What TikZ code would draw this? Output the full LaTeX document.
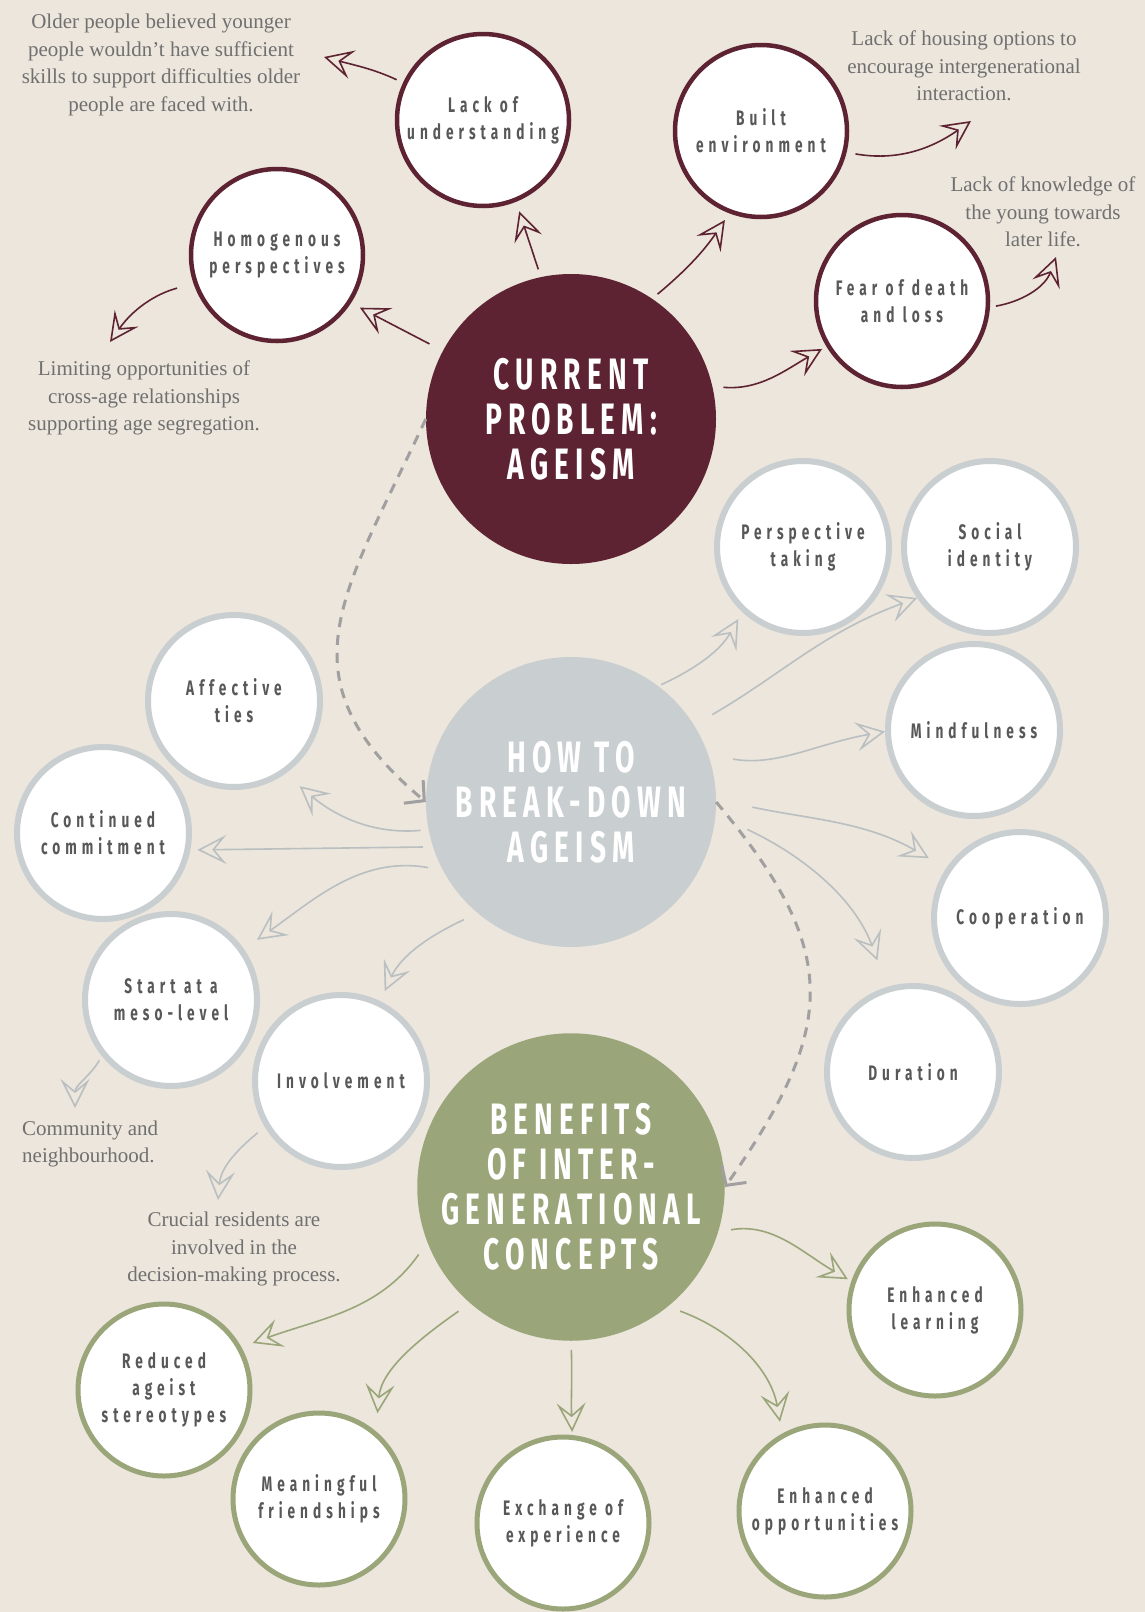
\documentclass[tikz,border=0pt]{standalone}
\usepackage{fontspec}
\setmainfont{Liberation Serif}
\newfontfamily\circfont[FakeStretch=0.65,LetterSpace=24]{Fira Sans}
\newfontfamily\headfont[FakeStretch=0.64,LetterSpace=14]{Fira Sans}
\usetikzlibrary{arrows.meta}
\definecolor{paper}{RGB}{236,230,220}
\definecolor{wine}{RGB}{94,35,51}
\definecolor{mist}{RGB}{201,206,208}
\definecolor{fog}{RGB}{186,191,193}
\definecolor{sage}{RGB}{154,166,122}
\definecolor{ink}{RGB}{88,88,88}
\definecolor{pencil}{RGB}{112,112,112}
\definecolor{dashgrey}{RGB}{160,160,160}

\begin{document}
\begin{tikzpicture}[x=1pt,y=1pt,
  big/.style={circle,minimum size=290pt,inner sep=0pt,text=white,align=center,
    font=\headfont\bfseries\fontsize{44}{45}\selectfont},
  ring/.style={circle,fill=white,minimum size=172pt,inner sep=0pt,align=center,text=ink,
    font=\circfont\bfseries\fontsize{21}{27}\selectfont},
  ringw/.style={ring,draw=wine,line width=4.5pt},
  ringm/.style={ring,draw=mist,line width=6pt},
  ringg/.style={ring,draw=sage,line width=5pt},
  note/.style={align=center,text=pencil,inner sep=0pt,font=\fontsize{21}{27.5}\selectfont},
  hand/.style={line width=1.6pt,-{Stealth[open,length=29pt,width=29pt,inset=12pt]}},
  arm/.style={hand,draw=wine},
  arg/.style={hand,draw=fog},
  arv/.style={hand,draw=sage},
  dashline/.style={draw=dashgrey,line width=3pt,dash pattern=on 10pt off 8pt,
    -{Straight Barb[length=14pt,width=30pt]}}]
\fill[paper] (0,0) rectangle (1145,-1612);
\useasboundingbox (0,0) rectangle (1145,-1612);

% the three big circles
\node[big,fill=wine] (cp) at (571,-419) {CURRENT\\PROBLEM:\\AGEISM};
\node[big,fill=mist] (hw) at (571,-802) {HOW TO\\BREAK-DOWN\\AGEISM};
\node[big,fill=sage] (bf) at (571,-1187) {BENEFITS\\OF INTER-\\GENERATIONAL\\CONCEPTS};
\draw[dashline] (cp.180) to[out=245,in=140,looseness=1.3] (hw.180);
\draw[dashline] (hw.0) to[out=-50,in=55,looseness=1.3] (bf.0);

% current problem
\node[ringw] (lack) at (483,-120) {Lack of\\understanding};
\node[ringw] (built) at (761,-131) {Built\\environment};
\node[ringw] (homo) at (277,-255) {Homogenous\\perspectives};
\node[ringw] (fear) at (902,-301) {Fear of death\\and loss};
\node[note] (noteOld) at (161,-65) {Older people believed younger\\people wouldn't have sufficient\\skills to support difficulties older\\people are faced with.};
\node[note] (noteHouse) at (964,-66) {Lack of housing options to\\encourage intergenerational\\interaction.};
\node[note] (noteKnow) at (1043,-212) {Lack of knowledge of\\the young towards\\later life.};
\node[note] (noteLimit) at (144,-398) {Limiting opportunities of\\cross-age relationships\\supporting age segregation.};
\coordinate (oldEnd) at (324,-57);
\coordinate (limitEnd) at (110,-342);
\coordinate (houseEnd) at (971,-121);
\coordinate (knowEnd) at (1056,-257);
\draw[arm,shorten <=8pt,shorten >=10pt] (cp.102) -- (lack.-68);
\draw[arm,shorten <=7pt,shorten >=8pt] (cp.56) to[bend right=8] (built.-111);
\draw[arm,shorten <=15pt,shorten >=10pt] (cp.152) -- (homo.-33);
\draw[arm,shorten <=11pt,shorten >=5pt] (cp.13) to[out=-5,in=210] (fear.-149);
\draw[arm,shorten <=7pt] (lack.155) to[out=155,in=-15] (oldEnd);
\draw[arm,shorten <=17pt] (homo.-161) to[out=195,in=55] (limitEnd);
\draw[arm,shorten <=9pt] (built.-14) to[out=-10,in=215] (houseEnd);
\draw[arm,shorten <=6pt] (fear.-4) to[out=10,in=250] (knowEnd);

% how to break it down
\node[ringm] (persp) at (803,-547) {Perspective\\taking};
\node[ringm] (social) at (990,-547) {Social\\identity};
\node[ringm] (mind) at (974,-730) {Mindfulness};
\node[ringm] (affect) at (234,-701) {Affective\\ties};
\node[ringm] (contin) at (103,-833) {Continued\\commitment};
\node[ringm] (coop) at (1020,-918) {Cooperation};
\node[ringm] (meso) at (171,-1000) {Start at a\\meso-level};
\node[ringm] (invol) at (341,-1081) {Involvement};
\node[ringm] (durat) at (913,-1072) {Duration};
\node[note,align=left,anchor=west] (noteComm) at (22,-1144) {Community and\\neighbourhood.};
\node[note] (noteCruc) at (234,-1249) {Crucial residents are\\involved in the\\decision-making process.};
\coordinate (commEnd) at (75,-1108);
\coordinate (crucEnd) at (218,-1200);
\draw[arg,shorten <=3pt,shorten >=8pt] (hw.53) to[out=25,in=240] (persp.-133);
\draw[arg,shorten <=21pt] (hw.32) to[out=30,in=200] (social.-145);
\draw[arg,shorten <=25pt] (hw.19) to[out=-10,in=190] (mind.-179);
\draw[arg,shorten <=37pt,shorten >=20pt] (hw.1) to[out=-12,in=150] (coop.146);
\draw[arg,shorten <=35pt,shorten >=28pt] (hw.-5) to[out=-25,in=110] (durat.107);
\draw[arg,shorten <=8pt,shorten >=19pt] (hw.-169) to[out=185,in=-40] (affect.-55);
\draw[arg,shorten <=10pt,shorten >=7pt] (hw.-162) -- (contin.-11);
\draw[arg,shorten <=15pt,shorten >=16pt] (hw.-152) to[out=170,in=35] (meso.35);
\draw[arg,shorten <=15pt,shorten >=11pt] (hw.-130) to[out=205,in=65] (invol.64);
\draw[arg,shorten <=5pt] (meso.-141) to[out=240,in=90] (commEnd);
\draw[arg,shorten <=9pt] (invol.-149) to[out=220,in=85] (crucEnd);

% benefits
\node[ringg] (learn) at (935,-1310) {Enhanced\\learning};
\node[ringg] (reduc) at (164,-1390) {Reduced\\ageist\\stereotypes};
\node[ringg] (mean) at (319,-1499) {Meaningful\\friendships};
\node[ringg] (exch) at (563,-1523) {Exchange of\\experience};
\node[ringg] (oppo) at (825,-1511) {Enhanced\\opportunities};
\draw[arv,shorten <=15pt,shorten >=12pt] (bf.-159) to[out=235,in=20] (reduc.29);
\draw[arv,shorten <=14pt,shorten >=18pt] (bf.-131) to[out=215,in=85] (mean.50);
\draw[arv,shorten <=9pt,shorten >=3pt] (bf.-90) to[out=-88,in=92] (exch.84);
\draw[arv,shorten <=13pt,shorten >=12pt] (bf.-51) to[out=-20,in=100] (oppo.119);
\draw[arv,shorten <=13pt,shorten >=4pt] (bf.-17) to[out=10,in=150] (learn.161);
\end{tikzpicture}
\end{document}
